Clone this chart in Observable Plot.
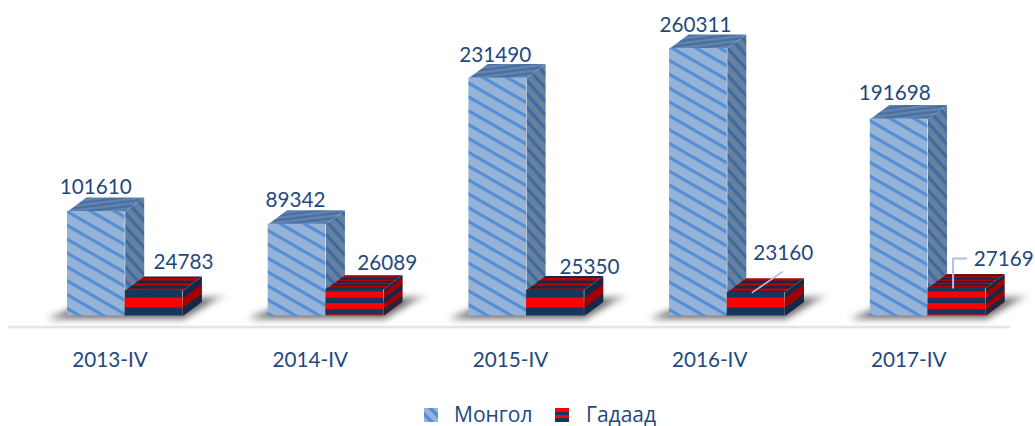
<!DOCTYPE html>
<html><head><meta charset="utf-8">
<script src="https://cdn.jsdelivr.net/npm/d3@7"></script>
<script src="https://cdn.jsdelivr.net/npm/@observablehq/plot@0.6"></script>
<style>
html,body{margin:0;padding:0;background:#fff;overflow:hidden}
#legend{position:absolute;left:0;top:396px;width:1035px;height:30px;font:21px "Open Sans","Noto Sans",sans-serif;color:#1f497d}
#legend i{position:absolute;top:12px;width:14px;height:14px}
#legend span{position:absolute;top:1px;line-height:34px}
</style></head><body>
<div id="chart"></div>
<div id="legend">
<i style="left:424px;background:linear-gradient(135deg,#95b3d7 0 20%,#558ed5 20% 38%,#95b3d7 38% 62%,#558ed5 62% 80%,#95b3d7 80%);transform:scaleX(-1)"></i><span style="left:454px" id="l0"></span>
<i style="left:555px;background:linear-gradient(#f00 0 4px,#17365d 4px 7px,#f00 7px 10px,#17365d 10px)"></i><span style="left:586px" id="l1"></span>
</div>
<script>
const periods = ["2013-IV", "2014-IV", "2015-IV", "2016-IV", "2017-IV"];
const mongol = [101610, 89342, 231490, 260311, 191698];
const gadaad = [24783, 26089, 25350, 23160, 27169];
const seriesNames = ["Монгол", "Гадаад"];

// layout (scale units: one group = 1 on x, y is the value axis)
const W = 0.2875, DX = 0.0947, DY = 13620;
const fineBands = [false, true, false, false, true];
const pxGroup = 200.7, pxLeft = 67, pxBase = 315.5, pxPerValue = 0.001028;
const navy = "#17365d", red = "#ff0000", navyD = "#14284a", redD = "#a00000";
const xs = periods.map((_, i) => i);
const mono = "Lato, 'Noto Sans', sans-serif";
const ink = "#1f497d";

document.getElementById("l0").textContent = seriesNames[0];
document.getElementById("l1").textContent = seriesNames[1];

function patterns() {
  let s = `
  <pattern id="bf" patternUnits="userSpaceOnUse" width="40" height="12" patternTransform="rotate(30)"><rect width="40" height="12" fill="#95b3d7"/><rect y="4" width="40" height="3.2" fill="#558ed5"/></pattern>
  <pattern id="bs" patternUnits="userSpaceOnUse" width="40" height="9" patternTransform="rotate(48)"><rect width="40" height="9" fill="#66809f"/><rect y="3" width="40" height="3.2" fill="#3f6a9f"/></pattern>
  <pattern id="bt" patternUnits="userSpaceOnUse" width="40" height="4.6" patternTransform="rotate(-7)"><rect width="40" height="4.6" fill="#6085b4"/><rect y="2.4" width="40" height="2.2" fill="#4a6d99"/></pattern>`;
  xs.forEach(i => {
    const xr = pxLeft + pxGroup * i + (W * 2) * pxGroup;
    const fine = fineBands[i];
    const h = fine ? 11.5 : 27, ry = fine ? 291.5 : 297.5, rh = fine ? 6.3 : 10;
    s += `<pattern id="rf${i}" patternUnits="userSpaceOnUse" width="80" height="${h}" y="${ry}" x="0"><rect width="80" height="${h}" fill="${navy}"/><rect width="80" height="${rh}" fill="${red}"/></pattern>`;
    s += `<pattern id="rs${i}" patternUnits="userSpaceOnUse" width="40" height="${h}" patternTransform="matrix(1,${-14 / 19},0,1,${xr},${ry})"><rect width="40" height="${h}" fill="${navyD}"/><rect width="40" height="${rh}" fill="${redD}"/></pattern>`;
    const th = fine ? 3.2 : 5.2, tr = fine ? 1.5 : 2.4;
    s += `<pattern id="rt${i}" patternUnits="userSpaceOnUse" width="100" height="${th}" y="${fine ? 0.6 : 2}"><rect width="100" height="${th}" fill="${navyD}"/><rect x="0" width="100" height="${tr}" fill="#c00000"/></pattern>`;
  });
  return d3.create("svg:g").html(s).node();
}

const rows = xs.map(i => ({i, period: periods[i], m: mongol[i], g: gadaad[i]}));

function poly(id, pts, fill) { return pts.map(([x, y]) => ({id, x, y, fill})); }
const shadows = rows.flatMap(r => poly(r.i, [
  [r.i - 0.10, -2600], [r.i + 0.06, 10000], [r.i + 0.79, 19000], [r.i + 0.74, 16000], [r.i + 0.58, -2600], [r.i - 0.10, -2600]
], "#333"));
const faces = rows.flatMap(r => {
  const a = r.i, b = a + W;
  const top = (l, rr, v, f) => poly(`${f}`, [[l, v], [l + DX, v + DY], [rr + DX, v + DY], [rr, v], [l, v]], f);
  const side = (rr, v, f) => poly(`${f}`, [[rr, 0], [rr + DX, DY], [rr + DX, v + DY], [rr, v], [rr, 0]], f);
  return [
    ...side(b, r.m, "url(#bs)"),
    ...top(a, b, r.m, "url(#bt)")
  ].map(d => ({...d, id: d.fill + a}));
});
const redFaces = rows.flatMap(r => {
  const a = r.i + W, b = a + W, v = r.g;
  return [
    ...poly("s" + r.i, [[b, 0], [b + DX, DY], [b + DX, v + DY], [b, v], [b, 0]], `url(#rs${r.i})`),
    ...poly("t" + r.i, [[a, v], [a + DX, v + DY], [b + DX, v + DY], [b, v], [a, v]], `url(#rt${r.i})`)
  ];
});

const txt = {fontFamily: mono, fontSize: 20.7, fill: ink, lineAnchor: "bottom"};
const blueNudge = [[-0.5, -18], [-1.5, -17], [-2.5, -16], [-3, -16], [-4.5, -19]];
const redNudge = [[29.5, -22], [32.5, -19], [34, -16], [27, -32], [47, -22]];
const tickNudge = [0, -0.5, -1, -2.5, -4];

const marks = [
  patterns,
  Plot.line(shadows, {x: "x", y: "y", z: "id", fill: "#333", fillOpacity: 0.72, stroke: "none", imageFilter: "blur(3.5px)"}),
  Plot.ruleY([0], {x1: -0.294, x2: 4.698, dy: 11, stroke: "#dce6f2", strokeWidth: 2.6}),
  Plot.line(faces, {x: "x", y: "y", z: "id", fill: "fill", stroke: "none"}),
  Plot.rect(rows, {x1: "i", x2: d => d.i + W, y1: 0, y2: "m", fill: "url(#bf)", inset: 0}),
  Plot.line(redFaces, {x: "x", y: "y", z: "id", fill: "fill", stroke: "none"}),
  ...rows.map(r => Plot.rect([r], {x1: d => d.i + W, x2: d => d.i + 2 * W, y1: 0, y2: "g", fill: `url(#rf${r.i})`})),
  Plot.line([{x: 3 + W + 0.125, y: 23000}, {x: 3 + W + 0.275, y: 43000}], {x: "x", y: "y", stroke: "#a8c3e4", strokeWidth: 1.6}),
  Plot.line([{x: 4 + W + 0.125, y: 27500}, {x: 4 + W + 0.125, y: 56000}, {x: 4 + W + 0.19, y: 56000}], {x: "x", y: "y", stroke: "#a8c3e4", strokeWidth: 2}),
  ...rows.map((r, k) => Plot.text([r], {x: d => d.i + W / 2, y: "m", text: d => String(d.m), dx: blueNudge[k][0], dy: blueNudge[k][1], ...txt})),
  ...rows.map((r, k) => Plot.text([r], {x: d => d.i + W * 1.5, y: "g", text: d => String(d.g), dx: redNudge[k][0], dy: redNudge[k][1], ...txt})),
  ...rows.map((r, k) => Plot.text([r], {x: d => d.i + 0.212, y: 0, text: "period", dx: tickNudge[k], dy: 50.5, ...txt}))
];

const chart = Plot.plot({
  width: 1035, height: 396, margin: 0,
  style: {background: "transparent"},
  x: {type: "linear", axis: null, domain: [-pxLeft / pxGroup, (1035 - pxLeft) / pxGroup], range: [0, 1035]},
  y: {axis: null, domain: [0, pxBase / pxPerValue], range: [pxBase, 0]},
  color: {type: "identity"},
  marks
});
document.getElementById("chart").append(chart);
</script>
</body></html>
